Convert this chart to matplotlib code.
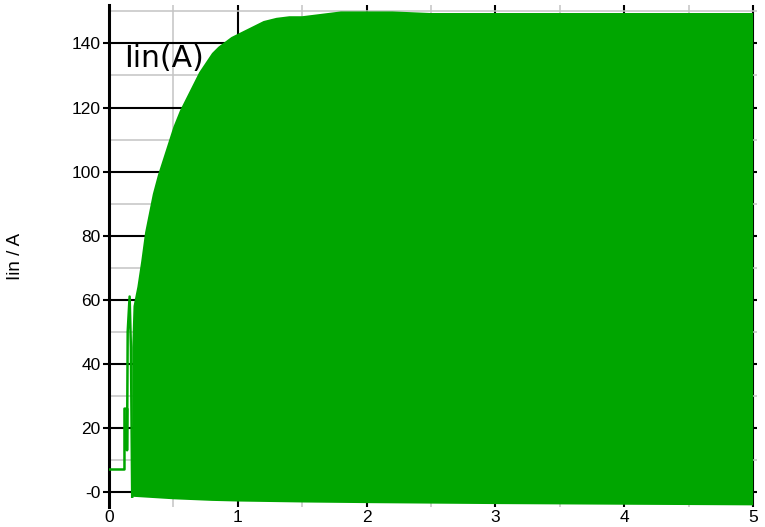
import numpy as np
import matplotlib.pyplot as plt
from matplotlib.ticker import MultipleLocator

# Start-up part of the current trace (before switching begins)
start_t = [0, 0.12, 0.12, 0.14, 0.14, 0.145, 0.16, 0.17, 0.18]
start_i = [7, 7, 26, 26, 13, 50, 61, 45, -1.5]

# Upper envelope of the switching ripple
upper_t = [0.18, 0.19, 0.22, 0.25, 0.28, 0.31, 0.34, 0.38, 0.42, 0.46, 0.5,
           0.55, 0.6, 0.65, 0.7, 0.75, 0.8, 0.85, 0.9, 0.95, 1.0, 1.1, 1.2,
           1.3, 1.4, 1.5, 1.6, 1.7, 1.8, 2.0, 2.2, 2.5, 3.0, 3.5, 4.0, 4.5, 5.0]
upper_i = [45, 58, 64, 72, 81, 87, 93, 99, 104, 109, 114,
           119, 123, 127, 131, 134, 137, 139, 140.5, 142, 143, 145, 147,
           148, 148.5, 148.5, 149, 149.5, 150, 150, 150, 149.5, 149.5, 149.5,
           149.5, 149.5, 149.5]

# Lower envelope of the ripple
lower_t = [0.18, 0.3, 0.5, 0.8, 1.0, 1.5, 2.0, 3.0, 4.0, 5.0]
lower_i = [-1.5, -1.8, -2.3, -2.8, -3.0, -3.3, -3.5, -3.8, -4.0, -4.2]

yticks = [0, 20, 40, 60, 80, 100, 120, 140]
ytick_labels = ["-0", "20", "40", "60", "80", "100", "120", "140"]
xticks = [0, 1, 2, 3, 4, 5]

green = "#00a600"

fig = plt.figure(figsize=(7.65, 5.27), dpi=100)
ax = fig.add_axes([0.1425, 0.038, 0.847, 0.9525])

# Trace
ax.plot(start_t, start_i, color=green, lw=1.8, zorder=3)
poly_t = np.concatenate([upper_t, lower_t[::-1]])
poly_i = np.concatenate([upper_i, lower_i[::-1]])
ax.fill(poly_t, poly_i, color=green, lw=0, zorder=3)

ax.set_xlim(0, 5.03)
ax.set_ylim(-4.7, 152)

# Grid: black majors, grey minors
ax.set_xticks(xticks)
ax.set_yticks(yticks)
ax.set_yticklabels(ytick_labels)
ax.xaxis.set_minor_locator(MultipleLocator(0.5))
ax.yaxis.set_minor_locator(MultipleLocator(10))
ax.grid(which="major", color="black", lw=1.5, zorder=0)
ax.grid(which="minor", color="#c4c4c4", lw=1.1, zorder=0)
ax.set_axisbelow(True)

for side in ["top", "right", "bottom"]:
    ax.spines[side].set_visible(False)
ax.spines["left"].set_linewidth(2.2)

ax.tick_params(axis="y", which="major", length=4, width=1.5,
               labelsize=12.5, pad=2)
ax.tick_params(axis="x", which="major", length=0, labelsize=12.5, pad=2)
ax.tick_params(which="minor", length=0)
for lab in ax.get_xticklabels() + ax.get_yticklabels():
    lab.set_fontfamily("Liberation Sans")

ax.set_ylabel("Iin / A", fontsize=13.5, family="Liberation Sans")
ax.yaxis.set_label_coords(-0.131, 0.5)

ax.text(0.115, 132.5, "Iin(A)", fontsize=21.5, family="DejaVu Sans",
        va="baseline", ha="left", zorder=4)

fig.savefig("out.png", dpi=100)
